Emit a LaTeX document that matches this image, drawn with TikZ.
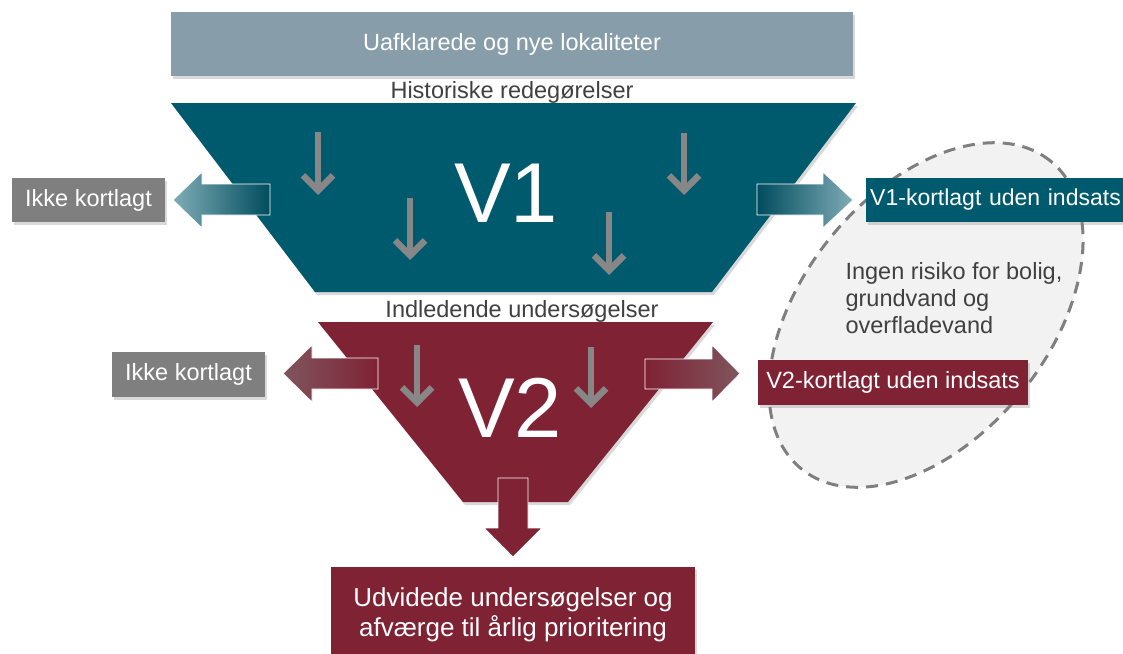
\documentclass[tikz,border=0pt]{standalone}
\usepackage{fontspec}
\setmainfont{Liberation Sans}
\usetikzlibrary{arrows.meta,shadows}
\definecolor{vteal}{HTML}{005A6E}
\definecolor{vwine}{HTML}{7F2234}
\definecolor{topgray}{HTML}{889DAA}
\definecolor{boxgray}{HTML}{7F7F7F}
\definecolor{arrgray}{HTML}{878787}
\definecolor{txtgray}{HTML}{404040}
\definecolor{ellfill}{HTML}{F2F2F2}
\tikzset{
  lbl/.style={font=\fontsize{23.5}{27}\selectfont},
  shd/.style={drop shadow={shadow xshift=2pt,shadow yshift=-3pt,opacity=.3}},
  box/.style={lbl, text=white, inner sep=0pt, shd},
  big/.style={font=\fontsize{85}{85}\selectfont, text=white},
  sink/.style={draw=arrgray, line width=6.5pt, -{Straight Barb[length=15pt,width=30pt]}},
}
\begin{document}
\begin{tikzpicture}[x=1pt, y=-1pt]
\useasboundingbox (0,0) rectangle (1123,653);
% ellipse behind
\draw[draw=boxgray, fill=ellfill, line width=3pt, dash pattern=on 12pt off 8pt,
  rotate around={51:(926,315)}] (926,315) ellipse [x radius=198pt, y radius=123pt];
\node (rest) at (842,298)[anchor=west, lbl, text=txtgray, align=left]{Ingen risiko for bolig,\\grundvand og\\overfladevand};

% top
\node (top) at (512,44)[box, fill=topgray, minimum width=682pt, minimum height=64pt]{Uafklarede og nye lokaliteter};
\node (hist) at (512,98)[anchor=base, lbl, text=txtgray]{Historiske redegørelser};

% V1 funnel
\fill[vteal, shd] (171,103)--(856,103)--(712,292)--(315,292)--cycle;
\node (v1) at (506,222)[anchor=base, big]{V1};
\foreach \x/\a/\b in {318/132/195, 410/198/260, 684/133/195, 609/212/275}
  \draw[sink] (\x,\a)--(\x,\b);
\shadedraw[draw=white, thick, left color=vteal!50!white, right color=vteal!85!black]
  (270,184)--(202,184)--(202,172)--(173,200)--(202,228)--(202,215)--(270,215)--cycle;
\shadedraw[draw=white, thick, left color=vteal!85!black, right color=vteal!50!white]
  (757,184)--(823,184)--(823,172)--(853,200)--(823,228)--(823,215)--(757,215)--cycle;
\node (ikke1) at (88.5,200)[box, fill=boxgray, minimum width=153pt, minimum height=44pt]{Ikke kortlagt};
\node (out1) at (866,200)[box, anchor=west, fill=vteal, minimum width=270pt, minimum height=44pt, text width=262pt, inner xsep=3pt, font=\fontsize{23}{27}\selectfont]{V1-kortlagt uden indsats};

% V2 funnel
\node (indl) at (522,317)[anchor=base, lbl, text=txtgray]{Indledende undersøgelser};
\fill[vwine, shd] (318,322)--(713,322)--(568,502)--(463,502)--cycle;
\node (v2) at (510,437)[anchor=base, big]{V2};
\foreach \x/\a/\b in {417/345/407, 591/347/408}
  \draw[sink] (\x,\a)--(\x,\b);
\shadedraw[draw=white, thick, left color=vwine!45!gray, right color=vwine]
  (378,358)--(312,358)--(312,345)--(283,373.5)--(312,402)--(312,389)--(378,389)--cycle;
\shadedraw[draw=white, thick, left color=vwine, right color=vwine!45!gray]
  (645,359)--(712,359)--(712,345)--(740,373.5)--(712,402)--(712,389)--(645,389)--cycle;
\node (ikke2) at (188.5,374.5)[box, fill=boxgray, minimum width=153pt, minimum height=45pt]{Ikke kortlagt};
\node (out2) at (893,382.5)[box, fill=vwine, minimum width=270pt, minimum height=45pt]{V2-kortlagt uden indsats};

% down to bottom box
\fill[vwine, draw=white, thick] (498,478)--(528,478)--(528,528)--(542,528)--(513,557)--(484,528)--(498,528)--cycle;
\node (udv) at (513,615)[box, fill=vwine, minimum width=364pt, minimum height=96pt, align=center, font=\fontsize{26}{30}\selectfont]{Udvidede undersøgelser og\\afværge til årlig prioritering};
\end{tikzpicture}
\end{document}
